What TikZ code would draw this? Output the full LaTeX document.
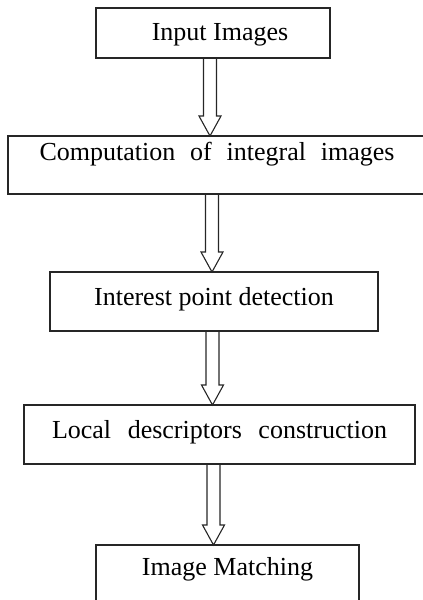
\documentclass[tikz,border=0pt]{standalone}
\usepackage{fontspec}
\setmainfont{Liberation Serif}
\usetikzlibrary{positioning,calc}

\begin{document}
\begin{tikzpicture}
[x=1pt,y=-1pt,
 every node/.style={draw=black!85,line width=1.2pt,inner sep=0pt,outer sep=0pt,font=\fontsize{26}{30}\selectfont},
 stage/.style={rectangle,anchor=north},
 hollow/.style={draw=black!85,line width=1.1pt,line join=miter}]
\useasboundingbox (0,0) rectangle (423,600);
\node[stage,minimum width=234pt,text height=32pt,text depth=18pt] (in)    at (213,8)                       {\hspace*{14pt}Input Images};
\node[stage,minimum width=418pt,text height=24pt,text depth=34pt] (comp)  [below=78pt of in,xshift=4pt]    {\makebox[355pt][s]{Computation of integral images}};
\node[stage,minimum width=328pt,text height=33pt,text depth=26pt] (ipd)   [below=78pt of comp,xshift=-3pt] {Interest point detection};
\node[stage,minimum width=391pt,text height=33pt,text depth=26pt] (desc)  [below=74pt of ipd,xshift=5.5pt] {\makebox[335pt][s]{Local descriptors construction}};
\node[stage,minimum width=263pt,text height=30pt,text depth=45pt] (match) [below=81pt of desc,xshift=8pt]  {Image Matching};
\foreach \a/\b/\ax in {in/comp/210,comp/ipd/212,ipd/desc/212.5,desc/match/213.5}
  \draw[hollow] let \p1=(\a.south), \p2=(\b.north) in
    (\ax pt-6.5pt,\y1) -- (\ax pt-6.5pt,\y2+20pt) -- (\ax pt-11pt,\y2+20pt) -- (\ax pt,\y2)
    -- (\ax pt+11pt,\y2+20pt) -- (\ax pt+6.5pt,\y2+20pt) -- (\ax pt+6.5pt,\y1);
\end{tikzpicture}
\end{document}
